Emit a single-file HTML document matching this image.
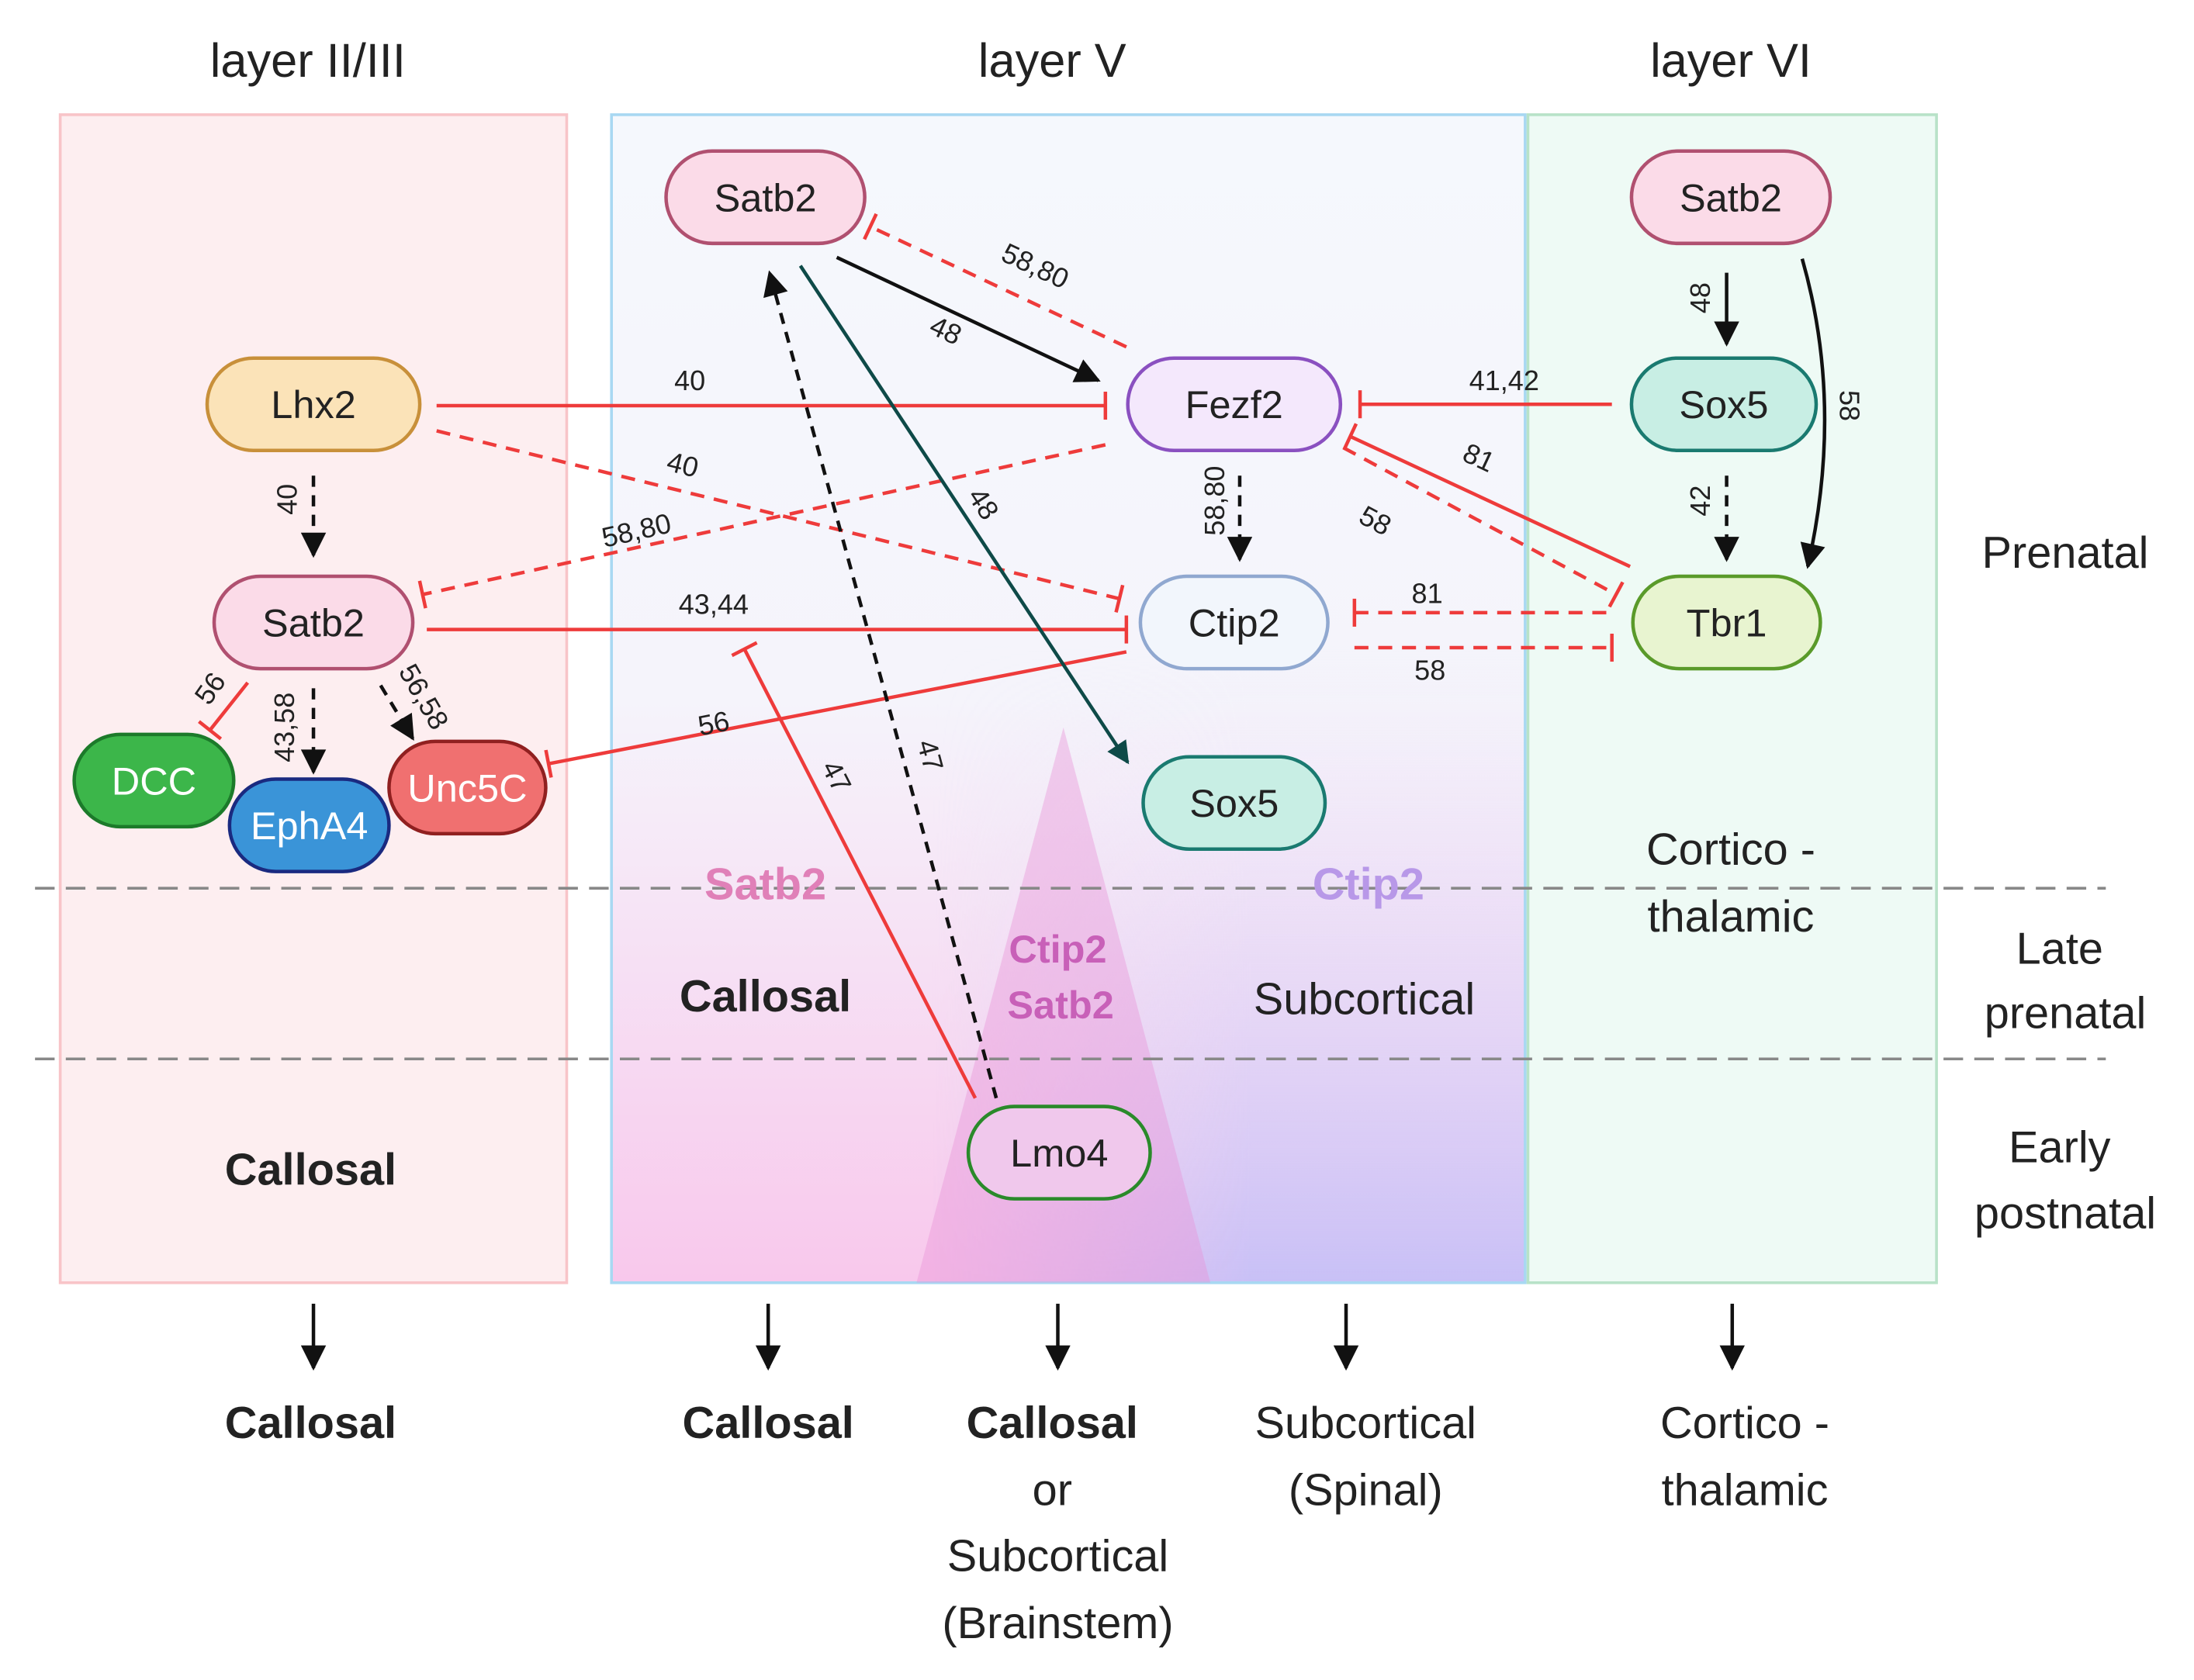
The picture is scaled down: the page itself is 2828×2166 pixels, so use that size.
<!DOCTYPE html>
<html><head><meta charset="utf-8"><style>html,body{margin:0;padding:0;background:#fff}svg{display:block}text{font-family:"Liberation Sans",sans-serif}</style></head><body>
<svg width="2828" height="2166" viewBox="0 0 1568 1201" xmlns="http://www.w3.org/2000/svg">
<defs>
<linearGradient id="g2" x1="0" y1="0" x2="0" y2="1"><stop offset="0" stop-color="#f5f8fd"/><stop offset="0.5" stop-color="#f5f4fb"/><stop offset="1" stop-color="#f8c8ec"/></linearGradient>
<linearGradient id="g3" x1="0" y1="0" x2="0" y2="1"><stop offset="0" stop-color="#f5f8fd" stop-opacity="0"/><stop offset="0.45" stop-color="#f0ecfb" stop-opacity="0"/><stop offset="1" stop-color="#c8c0f6"/></linearGradient>
<linearGradient id="gh" x1="0" y1="0" x2="1" y2="0"><stop offset="0" stop-color="#fff" stop-opacity="0"/><stop offset="0.35" stop-color="#fff" stop-opacity="0"/><stop offset="0.7" stop-color="#fff" stop-opacity="1"/></linearGradient>
<mask id="mr"><rect x="437" y="82" width="653" height="835" fill="url(#gh)"/></mask>
<marker id="ab" viewBox="0 0 10 10" refX="9" refY="5" markerWidth="20" markerHeight="18" markerUnits="userSpaceOnUse" orient="auto"><path d="M0,0L10,5L0,10z" fill="#111"/></marker>
<marker id="at" viewBox="0 0 10 10" refX="9" refY="5" markerWidth="18" markerHeight="16" markerUnits="userSpaceOnUse" orient="auto"><path d="M0,0L10,5L0,10z" fill="#0e4a48"/></marker>
<marker id="bar" viewBox="0 -10 4 20" refX="2" refY="0" markerWidth="4" markerHeight="24" markerUnits="userSpaceOnUse" orient="auto"><path d="M2,-10L2,10" stroke="#ee3b3b" stroke-width="2.5"/></marker>
</defs>
<rect width="1568" height="1201" fill="#fff"/>
<g font-size="34" fill="#222" text-anchor="middle">
<text x="220" y="55">layer II/III</text><text x="752" y="55">layer V</text><text x="1237" y="55">layer VI</text></g>
<rect x="43" y="82" width="362" height="835" fill="#fdeef0" stroke="#f8c4c8" stroke-width="2"/>
<rect x="437" y="82" width="653" height="835" fill="url(#g2)"/>
<rect x="437" y="82" width="653" height="835" fill="url(#g3)" mask="url(#mr)"/>
<rect x="437" y="82" width="653" height="835" fill="none" stroke="#a8d8f2" stroke-width="2"/>
<rect x="1092" y="82" width="292" height="835" fill="#eefaf5" stroke="#b8e2c8" stroke-width="2"/>
<polygon points="760,520 655,917 865,917" fill="#e890d8" opacity="0.4"/>
<g stroke="#888" stroke-width="2" stroke-dasharray="14,8"><line x1="25" y1="635" x2="1505" y2="635"/><line x1="25" y1="757" x2="1505" y2="757"/></g>
<g font-size="32" fill="#222" text-anchor="middle">
<text x="1476" y="406">Prenatal</text><text x="1472" y="689">Late</text><text x="1476" y="735">prenatal</text>
<text x="1472" y="831">Early</text><text x="1476" y="878">postnatal</text>
<text x="1237" y="618">Cortico -</text><text x="1237" y="666">thalamic</text>
<text x="975" y="725">Subcortical</text>
<text x="547" y="723" font-weight="bold">Callosal</text>
<text x="222" y="847" font-weight="bold">Callosal</text>
<text x="547" y="643" font-weight="bold" fill="#e080b8">Satb2</text>
<text x="978" y="643" font-weight="bold" fill="#b898e8">Ctip2</text>
<text x="756" y="688" font-size="28" font-weight="bold" fill="#c860b8">Ctip2</text>
<text x="758" y="728" font-size="28" font-weight="bold" fill="#c860b8">Satb2</text>
<text x="222" y="1028" font-weight="bold">Callosal</text>
<text x="549" y="1028" font-weight="bold">Callosal</text>
<text x="752" y="1028" font-weight="bold">Callosal</text>
<text x="752" y="1076">or</text><text x="756" y="1123">Subcortical</text><text x="756" y="1171">(Brainstem)</text>
<text x="976" y="1028">Subcortical</text><text x="976" y="1076">(Spinal)</text>
<text x="1247" y="1028">Cortico -</text><text x="1247" y="1076">thalamic</text>
</g>
<g stroke="#111" stroke-width="2.5" marker-end="url(#ab)">
<line x1="224" y1="932" x2="224" y2="978"/><line x1="549" y1="932" x2="549" y2="978"/><line x1="756" y1="932" x2="756" y2="978"/><line x1="962" y1="932" x2="962" y2="978"/><line x1="1238" y1="932" x2="1238" y2="978"/>
</g>
<g fill="none" stroke-width="2.5">
<g stroke="#ee3b3b" marker-end="url(#bar)">
<line x1="312" y1="290" x2="790" y2="290"/>
<line x1="312" y1="308" x2="800" y2="428" stroke-dasharray="10,7"/>
<line x1="790" y1="318" x2="302" y2="425" stroke-dasharray="10,7"/>
<line x1="305" y1="450" x2="805" y2="450"/>
<line x1="805" y1="466" x2="392" y2="546"/>
<line x1="177" y1="488" x2="150" y2="522"/>
<line x1="805" y1="248" x2="622" y2="162" stroke-dasharray="10,7"/>
<line x1="697" y1="785" x2="532" y2="464"/>
<line x1="1152" y1="289" x2="972" y2="289"/>
<line x1="1165" y1="405" x2="965" y2="312"/>
<line x1="960" y1="320" x2="1155" y2="425" stroke-dasharray="10,7"/>
<line x1="1148" y1="438" x2="968" y2="438" stroke-dasharray="10,7"/>
<line x1="968" y1="463" x2="1152" y2="463" stroke-dasharray="10,7"/>
</g>
<g stroke="#111" marker-end="url(#ab)">
<line x1="224" y1="340" x2="224" y2="397" stroke-dasharray="8,6"/>
<line x1="224" y1="492" x2="224" y2="552" stroke-dasharray="8,6"/>
<line x1="272" y1="490" x2="295" y2="528" stroke-dasharray="8,6"/>
<line x1="598" y1="184" x2="785" y2="272"/>
<line x1="712" y1="785" x2="550" y2="195" stroke-dasharray="8,6"/>
<line x1="886" y1="340" x2="886" y2="400" stroke-dasharray="8,6"/>
<line x1="1234" y1="195" x2="1234" y2="246"/>
<line x1="1234" y1="340" x2="1234" y2="400" stroke-dasharray="8,6"/>
<path d="M1288,185 Q1318,290 1292,405"/>
</g>
<line x1="572" y1="190" x2="806" y2="545" stroke="#0e4a48" marker-end="url(#at)"/>
</g>
<g font-size="20" fill="#222" text-anchor="middle">
<text x="493" y="279">40</text>
<text x="488" y="339" transform="rotate(14 488 332)">40</text>
<text x="455" y="386" transform="rotate(-13 455 380)">58,80</text>
<text x="510" y="439">43,44</text>
<text x="510" y="524" transform="rotate(-11 510 517)">56</text>
<text x="740" y="197" transform="rotate(25 740 190)">58,80</text>
<text x="676" y="243" transform="rotate(25 676 236)">48</text>
<text x="703" y="367" transform="rotate(57 703 360)">48</text>
<text x="665" y="547" transform="rotate(75 665 540)">47</text>
<text x="598" y="562" transform="rotate(63 598 555)">47</text>
<text x="1075" y="279">41,42</text>
<text x="1057" y="334" transform="rotate(25 1057 327)">81</text>
<text x="983" y="379" transform="rotate(28 983 372)">58</text>
<text x="1020" y="431">81</text><text x="1022" y="486">58</text>
<text x="205" y="364" transform="rotate(-90 205 357)">40</text>
<text x="868" y="365" transform="rotate(-90 868 358)">58,80</text>
<text x="1215" y="220" transform="rotate(-90 1215 213)">48</text>
<text x="1215" y="365" transform="rotate(-90 1215 358)">42</text>
<text x="1322" y="297" transform="rotate(90 1322 290)">58</text>
<text x="150" y="499" transform="rotate(-55 150 492)">56</text>
<text x="203" y="527" transform="rotate(-90 203 520)">43,58</text>
<text x="303" y="505" transform="rotate(60 303 498)">56,58</text>
</g>
<g stroke-width="2.5" font-size="28" text-anchor="middle">
<g><rect x="148" y="256" width="152" height="66" rx="33" fill="#fbe3b8" stroke="#c8903a"/><text x="224" y="299" stroke="none" fill="#222">Lhx2</text></g>
<g><rect x="153" y="412" width="142" height="66" rx="33" fill="#fbdbe8" stroke="#b05070"/><text x="224" y="455" stroke="none" fill="#222">Satb2</text></g>
<g><rect x="53" y="525" width="114" height="66" rx="33" fill="#3cb64a" stroke="#1c7a2a"/><text x="110" y="568" stroke="none" fill="#fff">DCC</text></g>
<g><rect x="164" y="557" width="114" height="66" rx="33" fill="#3a94d8" stroke="#1a2a80"/><text x="221" y="600" stroke="none" fill="#fff">EphA4</text></g>
<g><rect x="278" y="530" width="112" height="66" rx="33" fill="#f07070" stroke="#902020"/><text x="334" y="573" stroke="none" fill="#fff">Unc5C</text></g>
<g><rect x="476" y="108" width="142" height="66" rx="33" fill="#fbdbe8" stroke="#b05070"/><text x="547" y="151" stroke="none" fill="#222">Satb2</text></g>
<g><rect x="806" y="256" width="152" height="66" rx="33" fill="#f4e8fc" stroke="#8a50c0"/><text x="882" y="299" stroke="none" fill="#222">Fezf2</text></g>
<g><rect x="815" y="412" width="134" height="66" rx="33" fill="#f2f6fc" stroke="#90a8d0"/><text x="882" y="455" stroke="none" fill="#222">Ctip2</text></g>
<g><rect x="817" y="541" width="130" height="66" rx="33" fill="#c8eee4" stroke="#1a7a70"/><text x="882" y="584" stroke="none" fill="#222">Sox5</text></g>
<g><rect x="692" y="791" width="130" height="66" rx="33" fill="#f0c8ec" stroke="#2a8a2a"/><text x="757" y="834" stroke="none" fill="#222">Lmo4</text></g>
<g><rect x="1166" y="108" width="142" height="66" rx="33" fill="#fbdbe8" stroke="#b05070"/><text x="1237" y="151" stroke="none" fill="#222">Satb2</text></g>
<g><rect x="1166" y="256" width="132" height="66" rx="33" fill="#c8eee4" stroke="#1a7a70"/><text x="1232" y="299" stroke="none" fill="#222">Sox5</text></g>
<g><rect x="1167" y="412" width="134" height="66" rx="33" fill="#e8f4d0" stroke="#5a9a2a"/><text x="1234" y="455" stroke="none" fill="#222">Tbr1</text></g>
</g>
</svg>
</body></html>
